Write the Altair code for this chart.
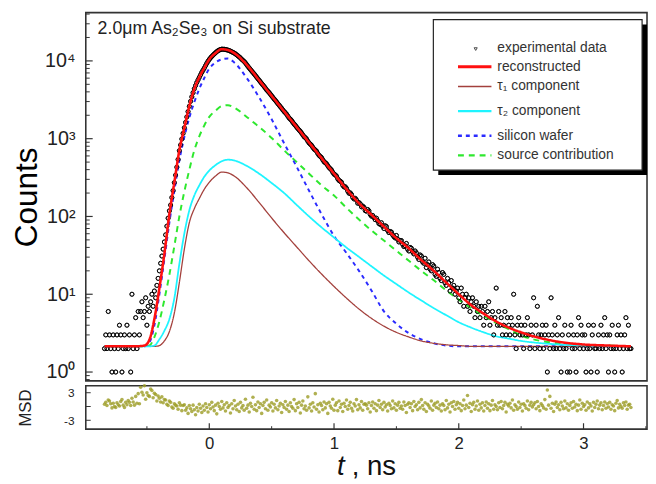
import altair as alt
import pandas as pd

# ---------------- data ----------------
# experimental spectrum: first channel (ns), channel width (ns), counts per channel
T_START = -0.84
T_STEP = 0.01
counts = [
    # -0.84 .. -0.56
    2, 3, 2, 6, 3, 2, 1, 3, 2, 1, 3, 2, 4, 3, 1, 2, 3, 2, 4, 2, 3, 1, 10, 2, 3, 5, 2, 6, 3,
    # -0.55 .. -0.41
    6, 8, 5, 6, 9, 4, 7, 6, 8, 10, 7, 11, 9, 13, 16,
    # -0.40 .. -0.30
    20, 25, 31, 38, 47, 58, 75, 95, 118, 140, 175,
    # -0.29 .. 3.30 (groups of ten)
    215, 272, 340, 430, 540, 700, 830, 990, 1170, 1380,
    1620, 1900, 2230, 2610, 3020, 3450, 3900, 4380, 4820, 5270,
    5700, 6150, 6620, 7120, 7600, 8100, 8700, 9300, 9900, 10450,
    10950, 11400, 11850, 12300, 12700, 13150, 13500, 13800, 14000, 14150,
    14150, 14100, 14000, 13900, 13750, 13550, 13350, 13100, 12850, 12600,
    12300, 11950, 11600, 11250, 10900, 10500, 10150, 9800, 9400, 8950,
    8500, 8100, 7750, 7420, 7100, 6780, 6480, 6180, 5900, 5620,
    5370, 5120, 4900, 4680, 4450, 4240, 4070, 3910, 3720, 3560,
    3390, 3230, 3100, 2960, 2820, 2690, 2570, 2460, 2340, 2230,
    2150, 2060, 1950, 1840, 1780, 1710, 1620, 1540, 1480, 1410,
    1350, 1290, 1240, 1180, 1120, 1060, 1030, 990, 930, 880,
    850, 820, 775, 735, 715, 690, 645, 610, 590, 570,
    535, 505, 490, 475, 450, 425, 410, 395, 370, 350,
    342, 330, 305, 290, 284, 275, 252, 240, 241, 230,
    212, 199, 201, 192, 176, 168, 171, 163, 148, 151,
    145, 133, 136, 131, 119, 117, 123, 118, 106, 101,
    103, 97, 91, 95, 88, 81, 79, 83, 75, 70,
    76, 74, 66, 62, 64, 63, 58, 55, 53, 57,
    51, 47, 49, 49, 44, 41, 42, 45, 38, 36,
    40, 39, 35, 33, 36, 34, 30, 28, 32, 31,
    26, 25, 29, 22, 24, 26, 21, 20, 24, 23,
    18, 17, 21, 19, 16, 15, 19, 18, 14, 13,
    16, 14, 11, 15, 12, 13, 10, 11, 12, 9,
    8, 12, 10, 7, 9, 10, 7, 9, 6, 8,
    9, 7, 5, 8, 6, 7, 5, 7, 6, 4,
    7, 5, 6, 8, 4, 5, 6, 3, 5, 12,
    4, 6, 4, 5, 3, 4, 6, 3, 5, 4,
    3, 5, 4, 10, 3, 2, 4, 5, 3, 4,
    3, 2, 4, 3, 5, 3, 2, 4, 3, 9,
    2, 4, 7, 3, 2, 3, 4, 2, 3, 4,
    1, 3, 2, 9, 3, 2, 4, 2, 3, 5,
    2, 1, 3, 2, 4, 2, 1, 3, 1, 4,
    2, 3, 2, 1, 3, 5, 2, 4, 3, 2,
    3, 1, 2, 4, 2, 1, 3, 4, 2, 2,
    1, 3, 2, 4, 2, 3, 5, 2, 3, 1,
    3, 2, 4, 2, 1, 2, 3, 4, 2, 3,
    # 3.31 .. 3.38
    1, 2, 3, 5, 2, 4, 2, 2,
]
msd = [
    0.5, 0.9, 0.2, 1.4, 1.2, 0.6, -0.3, 0.7, 0.0, -0.2, 0.8, 0.4, 0.1, 1.1, 1.5,
    0.3, -0.2, 0.9, 0.4, 1.3, 0.9, 0.2, 1.8, 1.0, 0.3, 2.2, 0.7, 2.8, 0.6,
    4.2, 3.1, 2.5, 4.5, 1.6, 3.0, 2.4, 2.2, 3.8, 3.5, 1.9, 2.9, 2.6, 1.2, 2.3,
    1.8, 1.0, 2.1, 0.8, 1.5, 1.4, 0.5, 0.2, 1.2, 0.9, -0.1,
    -0.4, 0.6, 0.3, 0.1, -0.6, 0.8, 0.3, -0.9, 0.2, 0.4,
    -0.8, -0.3, -1.5, 0.2, -0.5, -1.1, 0.3, -0.7, -1.8, -0.2,
    -1.0, 0.5, -0.4, -1.3, 0.1, -0.8, 0.6, -0.2, -1.2, 0.4,
    -0.5, 0.9, -0.1, -0.9, 0.3, -1.6, 0.7, 0.0, -0.6, 1.1,
    -0.3, 0.4, -1.0, 0.8, -0.2, 0.2, -1.4, 0.6, -0.5, 1.3,
    0.1, -0.7, 0.5, -1.1, 0.9, -0.3, 0.2, -0.8, 1.6, -0.4,
    0.3, -1.2, 0.7, 0.0, 2.0, -0.6, 0.4, -0.9, 1.0, -0.2,
    0.6, -1.5, 0.2, 0.9, -0.5, 1.4, -0.8, 0.3, -0.1, 0.8,
    -1.0, 0.5, -0.3, 1.3, -0.7, 0.1, 0.7, -1.3, 0.4, -0.2,
    1.1, -0.6, 0.3, -1.1, 0.8, 0.0, -0.4, 1.5, -0.9, 0.6,
    -0.2, 0.9, -1.4, 0.3, 1.2, -0.5, 0.1, -0.8, 2.1, -0.3,
    0.5, -1.0, 0.8, -0.1, 2.8, -0.6, 0.4, -1.2, 0.7, 0.2,
    -0.7, 1.0, -0.3, 0.6, -1.5, 0.9, 0.1, -0.4, 1.6, -0.8,
    0.3, 0.8, -0.9, 1.2, -0.2, 0.5, -1.1, 0.7, 0.0, 1.4,
    -0.6, 0.2, 0.9, -0.4, -1.0, 0.6, 0.1, 1.5, -0.7, 0.4,
    -0.3, 1.1, -0.8, 0.5, 0.6, 0.3, -0.5, 0.8, -1.2, 0.2,
    1.0, -0.4, 0.6, -0.9, 0.3, 1.3, -0.2, 0.5, -0.7, 0.9,
    -0.1, 0.4, -1.0, 0.7, 0.2, -0.5, 1.2, -0.3, 0.6, -0.8,
    0.3, 0.9, -0.4, 0.1, -0.6, 1.0, 0.2, -1.3, 0.5, 0.8,
    -0.2, 0.6, -0.9, 1.1, 0.0, 0.4, -0.7, 0.9, -0.3, 1.5,
    0.2, -0.6, 0.8, -1.1, 0.5, 0.1, -0.4, 1.2, -0.8, 0.3,
    0.7, -0.2, 1.0, -0.5, 0.3, -1.0, 0.6, 0.2, -0.7, 1.3,
    -0.3, 0.5, -1.2, 0.8, 0.0, 1.1, -0.6, 0.4, 0.9, -0.4,
    0.6, -0.9, 0.2, 1.4, -0.5, 0.3, 2.4, -0.2, 0.7, -1.1,
    0.4, 0.9, -0.6, 0.1, 1.2, -0.8, 0.5, -0.3, 0.8, -1.0,
    0.2, 1.0, -0.4, 0.6, -0.9, 0.3, 1.3, -0.6, 0.4, 0.0,
    -0.7, 0.8, -0.2, 1.1, -0.5, 0.2, 0.9, -1.2, 0.5, 0.1,
    0.7, -0.3, 1.4, -0.8, 0.4, 0.0, -0.6, 1.0, -0.2, 0.5,
    -1.0, 0.6, 0.2, -0.4, 1.2, -0.7, 0.3, 0.9, -0.1, 0.4,
    0.8, -0.5, 1.1, 0.0, -0.9, 0.6, 0.2, -0.3, 1.5, -0.6,
    3.6, 0.3, 2.2, -0.4, 0.7, -1.1, 0.5, 1.0, -0.2, 0.4,
    -0.7, 0.9, 0.1, -0.5, 1.2, -0.3, 0.6, -0.8, 0.2, 0.8,
    -0.4, 1.1, -0.1, 0.5, -0.9, 0.3, 1.4, -0.6, 0.7, 0.0,
    0.4, -0.8, 1.0, -0.3, 0.6, 0.1, -1.0, 0.9, -0.2, 0.5,
    1.2, -0.5, 0.3, 0.8, -0.7, 0.2, 1.0, -0.4, 0.6, -0.1,
    0.9, -0.6, 0.4, 0.1, -0.9, 0.7, 1.3, -0.3, 0.5, 0.0,
    -0.4, 0.8, 0.2, 1.0, -0.6, 0.3, 0.5, -0.2,
]

# fitted curves, sampled at these times (ns)
t_fit = [-0.84, -0.60, -0.52, -0.48, -0.44, -0.40, -0.36, -0.32, -0.28, -0.24,
         -0.20, -0.16, -0.12, -0.08, -0.04, 0.0, 0.05, 0.10, 0.15, 0.20,
         0.30, 0.40, 0.50, 0.60, 0.70, 0.80, 0.90, 1.0, 1.1, 1.2,
         1.3, 1.4, 1.5, 1.6, 1.7, 1.8, 1.9, 2.0, 2.1, 2.2,
         2.3, 2.4, 2.5, 2.6, 2.8, 3.0, 3.2, 3.38]
reconstructed = [2.14, 2.14, 2.19, 2.6, 4.8, 12.0, 33.1, 107, 275, 708,
                 1380, 2630, 4365, 6166, 8128, 10470, 12590, 14130, 13800, 12590,
                 8913, 5623, 3548, 2239, 1413, 891, 562, 355, 224, 148,
                 105, 74.1, 52.5, 38.9, 27.5, 20.0, 14.1, 10.0, 7.24, 5.62,
                 4.47, 3.72, 3.24, 2.88, 2.45, 2.26, 2.19, 2.14]
tau1 = [2.14, 2.14, 2.14, 2.14, 2.14, 2.19, 2.51, 3.31, 5.75, 14.1,
        38.0, 83.2, 126, 170, 224, 275, 331, 372, 363, 331,
        234, 151, 95.5, 61.7, 40.7, 26.9, 18.2, 12.6, 8.91, 6.46,
        4.90, 3.89, 3.24, 2.82, 2.51, 2.34, 2.24, 2.19, 2.14, 2.14,
        2.14, 2.14, 2.14, 2.14, 2.14, 2.14, 2.14, 2.14]
tau2 = [2.14, 2.14, 2.14, 2.14, 2.19, 2.63, 3.39, 4.79, 8.91, 24.5,
        60.3, 120, 186, 251, 324, 389, 457, 513, 537, 525,
        447, 355, 269, 200, 141, 100, 72.4, 53.7, 39.8, 30.2,
        22.9, 17.4, 13.5, 10.5, 8.32, 6.61, 5.37, 4.37, 3.72, 3.24,
        2.88, 2.69, 2.51, 2.40, 2.26, 2.19, 2.16, 2.14]
silicon = [2.14, 2.14, 2.14, 2.40, 3.98, 10.0, 28.2, 83.2, 214, 525,
           1047, 1862, 2951, 4365, 6026, 7943, 9550, 10470, 10720, 9550,
           6026, 3388, 1778, 871, 437, 214, 107, 56.2, 33.9, 20.0,
           11.2, 6.03, 4.17, 3.16, 2.63, 2.34, 2.19, 2.14, 2.14, 2.14,
           2.14, 2.14, 2.14, 2.14, 2.14, 2.14, 2.14, 2.14]
source = [2.14, 2.14, 2.14, 2.19, 2.82, 4.47, 8.51, 17.8, 41.7, 100,
          209, 398, 708, 1072, 1479, 1905, 2291, 2630, 2692, 2512,
          1905, 1413, 1023, 708, 501, 355, 251, 186, 129, 91.2,
          66.1, 49.0, 36.3, 26.9, 20.0, 15.1, 11.2, 8.51, 6.61, 5.25,
          4.27, 3.55, 2.95, 2.63, 2.34, 2.24, 2.19, 2.14]

legend_labels = ["experimental data", "reconstructed", "τ₁ component",
                 "τ₂ component", "silicon wafer", "source contribution"]
title_text = "2.0μm As₂Se₃ on Si substrate"

y_major = [1, 10, 100, 1000, 10000]
y_minor = [0.8, 0.9, 2, 3, 4, 5, 6, 7, 8, 9, 20, 30, 40, 50, 60, 70, 80, 90,
           200, 300, 400, 500, 600, 700, 800, 900, 2000, 3000, 4000, 5000,
           6000, 7000, 8000, 9000, 20000, 30000, 40000]
x_major = [0, 1, 2, 3]
x_minor = [-0.5, 0.5, 1.5, 2.5, 3.5]
msd_ticks = [-3, 0, 3]

# ---------------- styling ----------------
FONT = "Liberation Sans"
W, H1, H2 = 570, 374, 44
X_DOMAIN = [-0.99, 3.509]
Y_DOMAIN = [0.769, 41700]
MSD_DOMAIN = [-4.93, 4.5]

series = [
    # column, values, color, width, dash
    ("source contribution", source, "#2ee82e", 2.0, [6, 5]),
    ("silicon wafer", silicon, "#2b2bff", 2.0, [4, 4]),
    ("τ₁ component", tau1, "#a3403c", 1.3, [1, 0]),
    ("τ₂ component", tau2, "#1ef4ff", 1.8, [1, 0]),
    ("reconstructed", reconstructed, "#ff1010", 2.6, [1, 0]),
]

t_exp = [round(T_START + T_STEP * i, 3) for i in range(len(counts))]
t_res = [round(T_START + T_STEP * i, 3) for i in range(len(msd))]
exp_df = pd.DataFrame({"t": t_exp, "counts": counts})
msd_df = pd.DataFrame({"t": t_res, "msd": msd})
fit_df = pd.DataFrame({"t": t_fit})
for name, vals, *_ in series:
    fit_df[name] = vals

xs = alt.Scale(domain=X_DOMAIN, nice=False, zero=False)
ys = alt.Scale(type="log", domain=Y_DOMAIN, nice=False)
ms = alt.Scale(domain=MSD_DOMAIN, nice=False, zero=False)
one = pd.DataFrame({"k": [0]})

# ---------------- main panel ----------------
y_axis = alt.Axis(
    values=y_major, ticks=False, domain=False, grid=False,
    labelExpr="'10' + ['⁰','¹','²','³','⁴'][round(log(datum.value) / LN10)]",
    labelFont=FONT, labelFontSize=20, labelColor="#222", labelPadding=11,
    title="Counts", titleFont=FONT, titleFontSize=32, titleFontWeight="normal",
    titleColor="black", titleAngle=270, titleX=-50, titleY=H1 / 2,
    titleBaseline="alphabetic", titleAlign="center",
)

points = alt.Chart(exp_df).mark_point(shape="circle", filled=False, color="black",
                                      size=17, strokeWidth=0.9, opacity=0.9).encode(
    x=alt.X("t:Q", scale=xs, axis=None),
    y=alt.Y("counts:Q", scale=ys, axis=y_axis),
)
layers = [points]
for name, vals, color, width, dash in series:
    layers.append(
        alt.Chart(fit_df).mark_line(color=color, strokeWidth=width, strokeDash=dash,
                                    interpolate="monotone")
        .encode(x=alt.X("t:Q", scale=xs, axis=None),
                y=alt.Y(f"{name}:Q", scale=ys))
    )
# data points again above the component curves, below the reconstruction
layers.insert(len(layers) - 1, points)

tick_major = alt.Chart(pd.DataFrame({"v": y_major})).mark_rule(color="#333", strokeWidth=1.2).encode(
    y=alt.Y("v:Q", scale=ys), x=alt.value(0), x2=alt.value(7))
tick_minor = alt.Chart(pd.DataFrame({"v": y_minor})).mark_rule(color="#333", strokeWidth=1).encode(
    y=alt.Y("v:Q", scale=ys), x=alt.value(0), x2=alt.value(4))
layers += [tick_major, tick_minor]

title = alt.Chart(one).mark_text(text=title_text, font=FONT, fontSize=18, color="#222",
                                 align="left", baseline="alphabetic").encode(
    x=alt.value(12), y=alt.value(22))
layers.append(title)

# legend box (shadow + frame)
BX0, BX1, BY0, BY1 = 353, 565, 7, 160
layers.append(alt.Chart(one).mark_rect(color="black").encode(
    x=alt.value(BX0 + 5), x2=alt.value(BX1 + 5), y=alt.value(BY0 + 5), y2=alt.value(BY1 + 5)))
layers.append(alt.Chart(one).mark_rect(fill="white", stroke="#222", strokeWidth=1.2).encode(
    x=alt.value(BX0), x2=alt.value(BX1), y=alt.value(BY0), y2=alt.value(BY1)))

row_y = [36, 55, 75, 100, 125, 145]
style_of = {name: (color, width, dash) for name, _, color, width, dash in series}
for lab, ry in zip(legend_labels, row_y):
    if lab == "experimental data":
        layers.append(alt.Chart(one).mark_point(shape="triangle-down", filled=False,
                                                color="black", size=10, strokeWidth=1).encode(
            x=alt.value(396), y=alt.value(ry + 1)))
    else:
        color, width, dash = style_of[lab]
        layers.append(alt.Chart(one).mark_rule(color=color, strokeWidth=width + 0.4,
                                               strokeDash=dash).encode(
            x=alt.value(378), x2=alt.value(412), y=alt.value(ry)))
    layers.append(alt.Chart(one).mark_text(text=lab, font=FONT, fontSize=14, color="#333",
                                           align="left", baseline="middle").encode(
        x=alt.value(418), y=alt.value(ry)))

main = alt.layer(*layers).properties(width=W, height=H1)

# ---------------- residual panel ----------------
msd_axis = alt.Axis(
    values=msd_ticks, ticks=False, domain=False, grid=False, labelOverlap=False,
    labelExpr="replace(datum.label, '−', '-')",
    labelFont=FONT, labelFontSize=12, labelColor="#222", labelPadding=12,
    title="MSD", titleFont=FONT, titleFontSize=17, titleFontWeight="normal",
    titleColor="#222", titleAngle=270, titleX=-56, titleY=H2 / 2,
    titleBaseline="alphabetic", titleAlign="center",
)
x_axis = alt.Axis(values=x_major, format="d", ticks=False, domain=False, grid=False,
                  labelFont=FONT, labelFontSize=17, labelColor="#222", labelPadding=7,
                  title=None)
res_pts = alt.Chart(msd_df).mark_point(shape="circle", filled=True, color="#9c9c26",
                                       size=13, opacity=0.8).encode(
    x=alt.X("t:Q", scale=xs, axis=x_axis),
    y=alt.Y("msd:Q", scale=ms, axis=msd_axis),
)
xt_major = alt.Chart(pd.DataFrame({"v": x_major})).mark_rule(color="#333", strokeWidth=1.2).encode(
    x=alt.X("v:Q", scale=xs), y=alt.value(H2), y2=alt.value(H2 - 6))
xt_minor = alt.Chart(pd.DataFrame({"v": x_minor})).mark_rule(color="#333", strokeWidth=1).encode(
    x=alt.X("v:Q", scale=xs), y=alt.value(H2), y2=alt.value(H2 - 3))
mt = alt.Chart(pd.DataFrame({"v": msd_ticks})).mark_rule(color="#333", strokeWidth=1).encode(
    y=alt.Y("v:Q", scale=ms), x=alt.value(0), x2=alt.value(5))
xt_t = alt.Chart(one).mark_text(text="t", font=FONT, fontSize=28, fontStyle="italic",
                                color="#111", align="center", baseline="alphabetic").encode(
    x=alt.value(259), y=alt.value(91))
xt_ns = alt.Chart(one).mark_text(text=", ns", font=FONT, fontSize=28, color="#111",
                                 align="left", baseline="alphabetic").encode(
    x=alt.value(270), y=alt.value(91))
resid = alt.layer(res_pts, xt_major, xt_minor, mt, xt_t, xt_ns).properties(width=W, height=H2)

chart = (
    alt.vconcat(main, resid, spacing=0)
    .properties(padding={"left": 2, "top": 0, "right": 0, "bottom": 0},
                background="white")
    .configure_view(stroke="#333", strokeWidth=1.6)
)
chart.save("out.html", embed_options={"renderer": "svg", "actions": False})
